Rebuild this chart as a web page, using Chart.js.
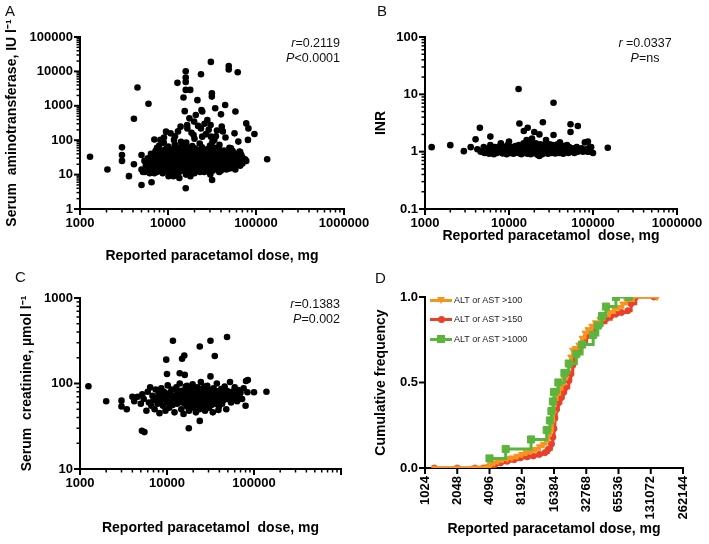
<!DOCTYPE html>
<html><head><meta charset="utf-8">
<script src="https://cdn.jsdelivr.net/npm/chart.js@4.4.0/dist/chart.umd.min.js"></script>
<style>
html,body{margin:0;padding:0;background:#fff;}
#wrap{position:relative;width:709px;height:544px;overflow:hidden;font-family:"Liberation Sans",Arial,sans-serif;background:#fff;}
canvas{position:absolute;left:0;top:0;}
.t{position:absolute;white-space:nowrap;color:#111;z-index:5;}
.letter{font-size:15px;line-height:15px;}
.ann{font-size:12.5px;line-height:14.5px;}
.lg{position:absolute;left:430px;width:200px;height:12px;z-index:5;}
.lg .ln{position:absolute;left:0;top:5px;width:22px;height:3px;}
.lg .tx{position:absolute;left:24px;top:0;font-size:9px;line-height:12px;color:#222;white-space:nowrap;}
.mk{position:absolute;}
</style></head><body><div id="wrap">
<canvas id="cA" width="709" height="544"></canvas>
<canvas id="cB" width="709" height="544"></canvas>
<canvas id="cC" width="709" height="544"></canvas>
<canvas id="cD" width="709" height="544"></canvas>

<div class="t letter" style="left:5px;top:3px;">A</div>
<div class="t letter" style="left:377px;top:3px;">B</div>
<div class="t letter" style="left:15px;top:269px;">C</div>
<div class="t letter" style="left:375px;top:270px;">D</div>

<div class="t ann" style="right:369px;top:36px;text-align:right;"><i>r</i>=0.2119<br><i>P</i>&lt;0.0001</div>
<div class="t ann" style="left:595px;width:100px;top:36px;text-align:center;"><i>r</i> =0.0337<br><i>P</i>=ns</div>
<div class="t ann" style="right:369px;top:297px;text-align:right;"><i>r</i>=0.1383<br><i>P</i>=0.002</div>

<div class="lg" style="top:294px;"><div class="ln" style="background:#F7941D"></div><div class="mk" style="left:7px;top:3px;width:0;height:0;border-left:4px solid transparent;border-right:4px solid transparent;border-top:7px solid #F7941D;"></div><div class="tx">ALT or AST &gt;100</div></div>
<div class="lg" style="top:313px;"><div class="ln" style="background:#E8412A"></div><div class="mk" style="left:8px;top:3px;width:7px;height:7px;border-radius:50%;background:#E8412A;"></div><div class="tx">ALT or AST &gt;150</div></div>
<div class="lg" style="top:333px;"><div class="ln" style="background:#5BB53C"></div><div class="mk" style="left:7px;top:2px;width:8px;height:8px;background:#5BB53C;"></div><div class="tx">ALT or AST &gt;1000</div></div>
</div>
<script>
const FONT = '"Liberation Sans", Arial, sans-serif';

// ---------- tick values / labels ----------
const doseTicks = [1000, 10000, 100000, 1000000];
const doseLabelsAB = ['1000', '10000', '100000', '1000000'];
const doseLabelsC = ['1000', '10000', '100000', ''];
const altTicks = [1, 10, 100, 1000, 10000, 100000];
const altLabels = ['1', '10', '100', '1000', '10000', '100000'];
const inrTicks = [0.1, 1, 10, 100];
const inrLabels = ['0.1', '1', '10', '100'];
const creatTicks = [10, 100, 1000];
const creatLabels = ['10', '100', '1000'];
const doseTicksD = [1024, 2048, 4096, 8192, 16384, 32768, 65536, 131072, 262144];
const doseLabelsD = ['1024', '2048', '4096', '8192', '16384', '32768', '65536', '131072', '262144'];
const freqTicks = [0, 0.5, 1];
const freqLabels = ['0.0', '0.5', '1.0'];

// ---------- Panel A: dose (mg) vs serum aminotransferase (IU/l) ----------
const outliersA = [[1300,33],[2050,14],[3000,62],[3000,37],[3000,25],[3600,9],[4100,20],[4100,420],[4500,3400],[5000,5],[5000,37],[5000,14],[5200,12],[6000,1150],[6500,6],[7000,105],[8200,102],[9500,177],[13900,248],[12800,4650],[15900,10100],[15900,6650],[15900,4950],[15900,2900],[15000,1740],[17900,2900],[15500,700],[17500,431],[16500,277],[20700,540],[23700,8250],[21600,1460],[24000,750],[24500,680],[30700,18900],[31500,2300],[31500,1850],[30500,277],[40000,565],[34400,850],[44600,1050],[40800,248],[49000,14300],[49000,11400],[62000,9400],[58400,680],[63000,91],[77500,308],[82000,220],[96000,152],[77500,25],[134000,28],[15900,4],[31700,7],[81000,102],[52000,58]];
const midA = [[10700,158],[11700,102],[14600,81],[16600,220],[19500,142],[19800,347],[23700,220],[24500,127],[28000,385],[29000,200],[30700,127],[33600,102],[38400,73],[57000,158],[65000,47],[68000,37],[45000,120],[36000,190],[26000,300],[12000,130],[13000,180],[18500,165],[22000,260],[27000,150],[35000,130],[42000,180],[20000,110],[9000,120]];
const clusterA = [[5400,25],[5600,18],[5500,12],[5900,30],[6100,14],[6000,22],[6200,11],[6400,40],[6600,17],[6500,26],[6700,13],[6900,20],[7100,35],[7000,11],[7200,48],[6950,28],[7400,15],[7600,24],[7500,60],[7700,32],[7450,12],[7900,18],[8100,42],[8000,27],[8200,13],[7950,70],[8150,22],[8400,30],[8600,16],[8500,50],[8700,11],[8450,24],[8900,36],[9100,19],[9000,14],[9200,26],[8950,85],[9150,45],[9400,22],[9600,13],[9500,31],[9700,17],[9450,55],[9900,28],[10100,40],[10000,12],[10200,20],[9850,16],[10050,65],[10150,9],[9950,34],[10700,24],[10900,15],[10800,48],[11000,30],[10650,11],[10950,19],[11400,35],[11600,21],[11500,14],[11700,58],[11350,26],[11650,17],[11550,9],[11900,42],[12100,18],[12000,29],[12200,12],[11950,75],[12150,23],[12050,15],[12700,20],[12900,33],[12800,13],[13000,50],[12650,25],[12950,10],[12750,38],[13400,27],[13600,16],[13500,44],[13700,22],[13350,12],[13650,62],[13550,30],[13450,8],[14100,19],[14300,36],[14200,14],[14400,25],[14050,90],[14350,52],[14900,31],[15100,18],[15000,23],[15200,13],[14850,46],[15150,28],[15050,40],[14950,16],[15250,70],[15900,25],[16100,15],[16000,34],[16200,20],[15850,12],[16150,55],[16050,42],[15950,18],[16250,29],[16000,10],[16100,85],[16900,22],[17100,38],[17000,14],[17200,27],[16850,60],[17150,17],[17050,45],[17900,30],[18100,19],[18000,13],[18200,50],[17850,24],[18150,35],[18050,16],[17950,9],[18900,26],[19100,41],[19000,15],[19200,21],[18850,68],[19150,33],[19900,20],[20100,32],[20000,14],[20200,48],[19850,25],[20150,17],[20050,38],[19950,11],[20250,58],[21400,28],[21600,18],[21500,43],[21700,23],[21350,13],[21650,36],[22900,24],[23100,35],[23000,15],[23200,52],[22850,19],[23150,30],[23050,12],[22950,80],[24400,21],[24600,40],[24500,27],[24700,14],[24350,62],[24650,17],[24550,33],[25900,29],[26100,18],[26000,46],[26200,23],[25850,12],[26150,37],[27900,25],[28100,34],[28000,16],[28200,55],[27850,20],[28150,42],[28050,13],[29900,22],[30100,31],[30000,45],[30200,18],[29850,28],[30150,14],[30050,70],[29950,38],[30250,10],[31900,26],[32100,17],[32000,36],[32200,50],[31850,21],[32150,13],[32050,30],[31950,88],[33900,24],[34100,40],[34000,15],[34200,29],[33850,60],[34150,19],[35900,33],[36100,20],[36000,48],[36200,14],[35850,27],[37900,22],[38100,37],[38000,17],[38200,12],[37850,55],[38150,30],[39900,28],[40100,19],[40000,44],[40200,24],[39850,13],[42900,35],[43100,21],[43000,16],[43200,50],[42850,27],[45900,23],[46100,32],[46000,14],[46200,42],[45850,18],[49900,29],[50100,20],[50000,38],[50200,15],[49850,60],[50150,25],[53900,22],[54100,34],[54000,17],[54200,48],[57900,27],[58100,19],[58000,40],[58200,14],[61900,30],[62100,22],[62000,36],[65900,25],[66100,45],[66000,18],[69900,32],[70100,21],[75000,28]];

// ---------- Panel B: dose vs INR ----------
const outliersB = [[1200,1.2],[2000,1.3],[2900,1.02],[3500,1.2],[4000,1.64],[4500,2.6],[6000,1.83],[13000,12.4],[33900,7.15],[13300,3.1],[25300,3.25],[33900,1.95],[16700,2.62],[15000,2.3],[20000,2.2],[54000,3.0],[66000,2.8],[54000,2.2],[23000,2.0],[87000,1.5],[95000,1.2],[100000,0.95],[150000,1.17],[87000,1.0],[23000,0.84]];
const clusterB = [[4200,1.1],[4600,1.0],[5000,1.2],[5100,0.95],[5300,1.05],[5600,1.15],[5800,0.92],[6000,1.3],[6200,1.0],[6400,1.1],[6600,0.9],[6800,1.2],[7000,1.05],[7200,0.95],[7400,1.15],[7600,1.0],[7800,1.25],[8000,1.4],[8200,1.1],[8400,0.93],[8600,1.05],[8800,1.2],[9000,1.0],[9200,1.1],[9400,0.9],[9600,1.3],[9800,1.05],[10000,1.5],[10200,1.15],[10400,0.95],[10600,1.0],[10800,1.2],[11000,1.1],[11300,0.92],[11600,1.05],[11900,1.25],[12200,1.0],[12500,1.1],[12800,0.95],[13100,1.3],[13400,1.05],[13700,1.15],[14000,0.9],[14300,1.2],[14600,1.0],[14900,1.4],[15200,1.1],[15500,0.95],[15800,1.25],[16000,1.05],[16200,1.6],[16400,1.15],[16600,0.92],[16800,1.3],[17000,1.0],[17300,1.1],[17600,1.45],[17900,1.2],[18200,0.9],[18500,1.05],[18800,1.7],[19100,1.15],[19400,1.0],[19700,1.3],[20000,0.95],[20300,1.1],[20600,1.2],[20900,1.4],[21200,1.0],[21500,1.05],[21800,0.88],[22100,1.15],[22400,1.25],[22700,1.0],[23000,1.1],[23300,0.95],[23600,1.35],[23900,1.05],[24200,1.2],[24500,1.0],[24800,0.9],[25100,1.15],[25400,1.1],[25700,1.3],[26000,1.0],[26400,1.2],[26800,0.95],[27200,1.05],[27600,1.6],[28000,1.1],[28400,1.0],[28800,1.25],[29200,0.92],[29600,1.15],[30000,1.05],[30500,1.35],[31000,1.0],[31500,1.1],[32000,1.2],[32500,0.95],[33000,1.05],[33500,1.3],[34000,1.1],[34500,1.0],[35000,1.15],[35600,0.93],[36200,1.2],[36800,1.05],[37400,1.1],[38000,1.35],[38600,1.0],[39200,1.15],[39800,0.95],[40400,1.45],[41000,1.05],[41800,1.2],[42600,1.0],[43400,1.1],[44200,0.92],[45000,1.25],[46000,1.05],[47000,1.15],[48000,1.0],[49000,1.3],[50000,1.1],[51000,0.95],[52000,1.2],[53500,1.05],[55000,1.0],[56500,1.15],[58000,1.1],[60000,0.95],[62000,1.05],[64000,1.2],[66000,1.0],[68000,1.1],[70000,1.05],[73000,1.15],[76000,1.0],[80000,1.45],[83000,1.1],[88000,1.0],[92000,1.2],[12000,1.08],[14000,1.12],[16000,1.18],[18000,1.02],[20000,1.22],[22000,1.08],[24000,1.12],[26000,1.02],[28000,1.18],[30000,1.22],[15000,1.02],[19000,1.08],[25000,1.28],[17000,1.22],[21000,1.12]];

// ---------- Panel C: dose vs serum creatinine (umol/l) ----------
const outliersC = [[1250,93],[2000,62],[3000,63],[3000,54],[3450,50],[4000,70],[5150,28],[5500,27],[11700,316],[9800,190],[14900,195],[15800,212],[23800,271],[31600,316],[35400,210],[49000,350],[17800,30],[23800,36.5],[10000,129],[14000,132],[16000,126],[31600,121],[81000,107],[85000,110],[100000,79],[139000,80],[80000,55],[84000,79],[39000,49]];
const clusterC = [[4200,62],[4600,70],[5000,58],[5200,75],[5400,66],[5800,48],[6000,80],[6200,60],[6400,90],[6600,55],[6800,72],[7000,64],[7200,50],[7400,85],[7600,68],[7800,58],[8000,76],[8200,45],[8400,62],[8600,88],[8800,70],[9000,55],[9200,80],[9400,66],[9600,48],[9800,74],[10000,60],[10200,95],[10400,68],[10600,52],[10800,78],[11000,64],[11300,85],[11600,56],[11900,72],[12200,46],[12500,66],[12800,90],[13100,58],[13400,76],[13700,62],[14000,100],[14300,70],[14600,50],[14900,82],[15200,64],[15500,44],[15800,74],[16100,58],[16400,92],[16700,68],[17000,54],[17300,80],[17600,62],[17900,48],[18200,86],[18500,70],[18800,58],[19100,76],[19400,64],[19700,98],[20000,52],[20300,72],[20600,60],[20900,84],[21200,66],[21500,46],[21800,78],[22100,62],[22400,90],[22700,56],[23000,74],[23300,68],[23600,50],[23900,82],[24200,64],[24500,104],[24800,58],[25100,76],[25400,70],[25800,54],[26200,88],[26600,62],[27000,72],[27400,48],[27800,80],[28200,66],[28600,58],[29000,94],[29500,74],[30000,62],[30500,52],[31000,84],[31500,68],[32000,78],[32500,56],[33000,72],[33600,46],[34200,88],[34800,64],[35400,76],[36000,58],[36700,70],[37400,100],[38100,62],[38800,80],[39500,54],[40200,72],[41000,66],[42000,86],[43000,58],[44000,76],[45000,64],[46000,92],[47000,70],[48000,50],[49000,82],[50000,66],[51500,74],[53000,104],[54500,60],[56000,80],[58000,68],[60000,90],[62000,74],[64000,62],[66000,84],[68000,70],[70000,78],[73000,66],[76000,88],[12000,70],[14000,80],[16000,66],[18000,74],[20000,84],[22000,70],[24000,78],[26000,66],[28000,74],[30000,80],[15000,60],[19000,90],[25000,86],[17000,94],[21000,56],[11000,74],[13000,82],[27000,92],[33000,64],[36000,82]];

// ---------- Panel D: cumulative frequency ----------
const dose100 = [1250,2048,2900,3200,3500,3800,4000,4200,4500,4900,5400,6000,6600,7400,8200,9000,10000,11000,12000,13000,13800,14500,15200,15800,16200,16400,16800,17500,18500,19500,20500,21500,22500,23500,24500,26000,28000,30000,32000,34000,37000,40000,44000,48000,54000,60000,66000,72000,78000,90000,150000];
const freq100 = [0,0,0,0,0,0,0.01,0.02,0.03,0.04,0.05,0.055,0.06,0.07,0.08,0.09,0.10,0.11,0.125,0.14,0.16,0.19,0.22,0.27,0.32,0.37,0.40,0.43,0.46,0.49,0.52,0.56,0.60,0.65,0.69,0.70,0.72,0.76,0.79,0.81,0.83,0.85,0.87,0.89,0.91,0.93,0.94,0.96,0.98,1.0,1.0];
const dose150 = [1250,2048,3000,3600,4100,4600,5200,6000,7000,8000,9200,10500,12000,13500,14500,15500,16000,16400,16700,17200,18000,19000,20000,21000,22500,23500,24500,25500,27000,29000,31000,33000,36000,40000,45000,50000,56000,62000,70000,80000,86000,95000,140000];
const freq150 = [0,0,0,0,0.01,0.02,0.03,0.04,0.05,0.06,0.065,0.07,0.08,0.09,0.11,0.14,0.18,0.23,0.29,0.34,0.38,0.41,0.44,0.47,0.51,0.55,0.60,0.65,0.68,0.71,0.74,0.77,0.80,0.83,0.85,0.87,0.89,0.90,0.91,0.92,0.96,1.0,1.0];
const dose1000 = [4096,5800,10000,14000,15000,15500,16000,16400,18000,20500,22500,26500,30000,38000,42000,46000,50000,62000,82000];
const freq1000 = [0.056,0.111,0.167,0.222,0.278,0.333,0.389,0.444,0.5,0.556,0.611,0.667,0.722,0.778,0.833,0.889,0.944,1.0,1.0];

// ---------- helpers ----------
function tickList(majors, minor) {
  const out = [];
  for (let i = 0; i < majors.length; i++) {
    out.push({value: majors[i], major: true});
    if (minor && i < majors.length - 1) {
      for (let m = 2; m <= 9; m++) out.push({value: majors[i] * m, major: false});
    }
  }
  return out;
}
// draws Prism-style outward tick marks (long major, short minor) on the x and y scales
const prismTicks = {
  id: 'prismTicks',
  afterDraw(chart) {
    const ctx = chart.ctx;
    ctx.save();
    ctx.strokeStyle = '#000';
    ['x', 'y'].forEach(id => {
      const s = chart.scales[id];
      s.ticks.forEach(t => {
        const len = t.major ? 6 : 3.5;
        ctx.lineWidth = t.major ? 2 : 1.5;
        const p = s.getPixelForValue(t.value);
        ctx.beginPath();
        if (s.isHorizontal()) { ctx.moveTo(p, s.top); ctx.lineTo(p, s.top + len); }
        else { ctx.moveTo(s.right, p); ctx.lineTo(s.right - len, p); }
        ctx.stroke();
      });
    });
    ctx.restore();
  }
};
function axis(o) {
  const horiz = o.pos === 'bottom';
  return {
    type: o.type, position: o.pos, min: o.min, max: o.max,
    afterBuildTicks: s => { s.ticks = tickList(o.majors, o.minor); },
    afterFit: s => {
      if (horiz) s.height = o.size; else s.width = o.size;
      s.paddingLeft = 0; s.paddingRight = 0; s.paddingTop = 0; s.paddingBottom = 0;
    },
    ticks: {
      autoSkip: false, padding: o.tpad === undefined ? 2 : o.tpad, color: '#000',
      font: {family: FONT, size: 13, weight: 'bold'},
      minRotation: o.rot || 0, maxRotation: o.rot || 0,
      callback: (v, i, t) => {
        if (!t[i].major) return '';
        const k = o.majors.indexOf(t[i].value);
        return k >= 0 ? o.labels[k] : '';
      }
    },
    grid: {display: true, drawOnChartArea: false, drawTicks: true, tickLength: 5, tickColor: 'rgba(0,0,0,0)'},
    border: {display: true, color: '#000', width: 2},
    title: {
      display: true, text: o.title, color: '#000',
      font: {family: FONT, size: 14, weight: 'bold'},
      padding: horiz ? {top: 0, bottom: o.tp} : {top: o.tp, bottom: 0}
    }
  };
}
function pts(list) { return list.map(p => ({x: p[0], y: p[1]})); }
function pair(xs, ys) { return xs.map((x, i) => ({x: x, y: ys[i]})); }
function base(pad, scales, datasets) {
  return {
    type: 'scatter',
    data: {datasets: datasets},
    options: {
      responsive: false, animation: false, devicePixelRatio: 1, events: [],
      layout: {padding: pad},
      plugins: {legend: {display: false}, tooltip: {enabled: false}},
      scales: scales
    },
    plugins: [prismTicks]
  };
}
function dots(list) {
  return {data: pts(list), pointRadius: 3.3, pointHoverRadius: 3.3, pointBackgroundColor: '#000', pointBorderWidth: 0, showLine: false};
}

// Panel A
new Chart(document.getElementById('cA'), base(
  {left: 0, top: 37, right: 365, bottom: 279},
  {
    x: axis({type: 'logarithmic', pos: 'bottom', min: 1000, max: 1000000, majors: doseTicks, labels: doseLabelsAB, minor: true, size: 56, title: 'Reported paracetamol dose, mg', tp: 0}),
    y: axis({type: 'logarithmic', pos: 'left', min: 1, max: 100000, majors: altTicks, labels: altLabels, minor: true, size: 80, title: 'Serum  aminotransferase, IU l\u207B\u00B9', tp: 3.5})
  },
  [dots(clusterA.concat(midA, outliersA))]
));

// Panel B
new Chart(document.getElementById('cB'), base(
  {left: 345, top: 37, right: 32, bottom: 299},
  {
    x: axis({type: 'logarithmic', pos: 'bottom', min: 1000, max: 1000000, majors: doseTicks, labels: doseLabelsAB, minor: true, size: 36, title: 'Reported paracetamol  dose, mg', tp: 0}),
    y: axis({type: 'logarithmic', pos: 'left', min: 0.1, max: 100, majors: inrTicks, labels: inrLabels, minor: true, size: 80, title: 'INR', tp: 27.6})
  },
  [dots(clusterB.concat(outliersB))]
));

// Panel C
new Chart(document.getElementById('cC'), base(
  {left: 0, top: 298, right: 368, bottom: 7.5},
  {
    x: axis({type: 'logarithmic', pos: 'bottom', min: 1000, max: 1000000, majors: doseTicks, labels: doseLabelsC, minor: true, size: 67.5, title: 'Reported paracetamol  dose, mg', tp: 0}),
    y: axis({type: 'logarithmic', pos: 'left', min: 10, max: 1000, majors: creatTicks, labels: creatLabels, minor: true, size: 80, title: 'Serum  creatinine, \u00B5mol l\u207B\u00B9', tp: 19})
  },
  [dots(clusterC.concat(outliersC))]
));

// Panel D
const ORANGE = '#F7941D', RED = '#E8412A', GREEN = '#5BB53C';
new Chart(document.getElementById('cD'), base(
  {left: 345, top: 297, right: 26, bottom: 6},
  {
    x: axis({type: 'logarithmic', pos: 'bottom', min: 1024, max: 262144, majors: doseTicksD, labels: doseLabelsD, minor: false, size: 70, title: 'Reported paracetamol dose, mg', tp: 0, rot: 90, tpad: 3}),
    y: axis({type: 'linear', pos: 'left', min: 0, max: 1, majors: freqTicks, labels: freqLabels, minor: false, size: 80, title: 'Cumulative frequency', tp: 27.6})
  },
  [
    {label: 'ALT or AST >100', data: pair(dose100, freq100), showLine: true, stepped: true, borderColor: ORANGE, backgroundColor: ORANGE, borderWidth: 3, pointStyle: 'triangle', pointRotation: 180, pointRadius: 3.6, pointHoverRadius: 3.6, pointBackgroundColor: ORANGE, pointBorderColor: ORANGE, pointBorderWidth: 1, order: 1},
    {label: 'ALT or AST >150', data: pair(dose150, freq150), showLine: true, stepped: true, borderColor: RED, backgroundColor: RED, borderWidth: 3, pointStyle: 'circle', pointRadius: 3, pointHoverRadius: 3, pointBackgroundColor: RED, pointBorderColor: RED, pointBorderWidth: 1, order: 2},
    {label: 'ALT or AST >1000', data: pair(dose1000, freq1000), showLine: true, stepped: true, borderColor: GREEN, backgroundColor: GREEN, borderWidth: 3, pointStyle: 'rect', pointRadius: 5, pointHoverRadius: 5, pointBackgroundColor: GREEN, pointBorderColor: GREEN, pointBorderWidth: 1, order: 0}
  ]
));
</script>
</body></html>
